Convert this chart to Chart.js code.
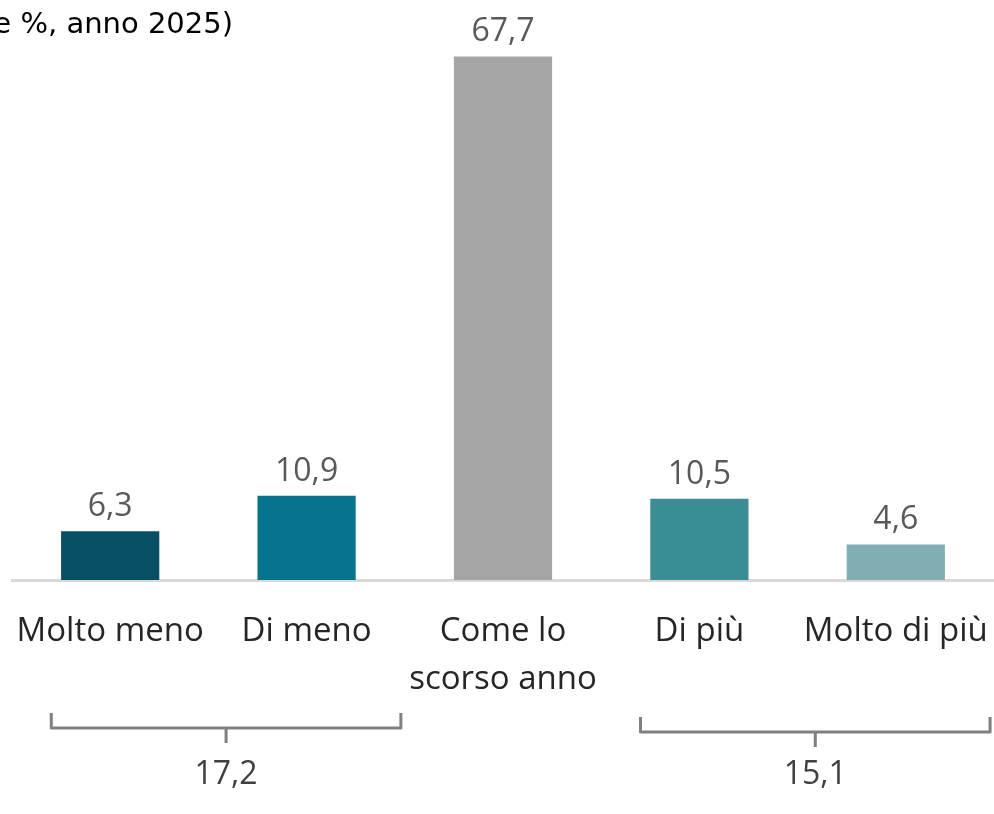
<!DOCTYPE html>
<html lang="it">
<head>
<meta charset="utf-8">
<script src="https://cdn.jsdelivr.net/npm/chart.js@4.4.1/dist/chart.umd.min.js"></script>
<style>
  html, body { margin: 0; padding: 0; background: #fff; }
  #wrap { position: relative; width: 994px; height: 814px; }
</style>
</head>
<body>
<div id="wrap"><canvas id="cv"></canvas></div>
<script>
/* quote % per risposta, anno 2025 */
const categorie = [['Molto meno'], ['Di meno'], ['Come lo', 'scorso anno'], ['Di più'], ['Molto di più']];
const valori = [6.3, 10.9, 67.7, 10.5, 4.6];
const colori = ['#074f62', '#07748f', '#a5a5a5', '#3a8d94', '#80aeb3'];

// raggruppamenti sotto l'asse: indici delle categorie e somma
const gruppiDa = [0, 3];
const gruppiA = [1, 4];
const gruppiTot = [17.2, 15.1];

const titolo = 'e %, anno 2025)';
const virgola = v => v.toFixed(1).replace('.', ',');
const FONT = "'Open Sans', 'Noto Sans', sans-serif";

/* etichette dei valori sopra le barre */
const etichette = {
  id: 'etichette',
  afterDatasetsDraw(chart) {
    const { ctx } = chart;
    const meta = chart.getDatasetMeta(0);
    ctx.save();
    ctx.font = `32px ${FONT}`;
    ctx.fillStyle = '#595959';
    ctx.textAlign = 'center';
    ctx.textBaseline = 'alphabetic';
    meta.data.forEach((b, i) => ctx.fillText(virgola(valori[i]), b.x, b.y - 15));
    ctx.restore();
  }
};

/* graffe con i totali dei gruppi + titolo */
const graffe = {
  id: 'graffe',
  afterDraw(chart) {
    const { ctx } = chart;
    const x = chart.scales.x;
    ctx.save();
    ctx.strokeStyle = '#808080';
    ctx.lineWidth = 3;
    ctx.lineJoin = 'round';
    gruppiDa.forEach((da, g) => {
      const x0 = x.getPixelForValue(da - 0.3);
      const x1 = x.getPixelForValue(gruppiA[g] + 0.48);
      const xm = (x0 + x1) / 2;
      const yTop = 713 + g * 4, yH = 728 + g * 4;
      ctx.beginPath();
      ctx.moveTo(x0, yTop); ctx.lineTo(x0, yH); ctx.lineTo(x1, yH); ctx.lineTo(x1, yTop);
      ctx.moveTo(xm, yH); ctx.lineTo(xm, yH + 15);
      ctx.stroke();
      ctx.font = `32px ${FONT}`;
      ctx.fillStyle = '#404040';
      ctx.textAlign = 'center';
      ctx.textBaseline = 'middle';
      ctx.fillText(virgola(gruppiTot[g]), xm, 775);
    });
    ctx.font = `29px 'DejaVu Sans', sans-serif`;
    ctx.fillStyle = '#000';
    ctx.textAlign = 'right';
    ctx.textBaseline = 'alphabetic';
    ctx.fillText(titolo, 233, 33);
    ctx.restore();
  }
};

new Chart(document.getElementById('cv'), {
  type: 'bar',
  data: {
    labels: categorie,
    datasets: [{ data: valori, backgroundColor: colori, barPercentage: 0.5, categoryPercentage: 1 }]
  },
  options: {
    responsive: true, maintainAspectRatio: false, animation: false,
    layout: { padding: { top: 0, left: 12, right: 0, bottom: 0 } },
    plugins: { legend: { display: false }, tooltip: { enabled: false } },
    scales: {
      x: {
        grid: { display: false, drawTicks: false },
        border: { color: '#d9d9d9', width: 3 },
        ticks: { color: '#262626', font: { family: FONT, size: 33, lineHeight: 1.45 }, padding: 28, maxRotation: 0, autoSkip: false },
        // niente margini laterali per le etichette lunghe: l'area resta piena
        afterFit: s => { s.height = 234; s.paddingLeft = 0; s.paddingRight = 0; }
      },
      y: { display: false, min: 0, max: 75 }
    }
  },
  plugins: [etichette, graffe]
});
</script>
</body>
</html>
